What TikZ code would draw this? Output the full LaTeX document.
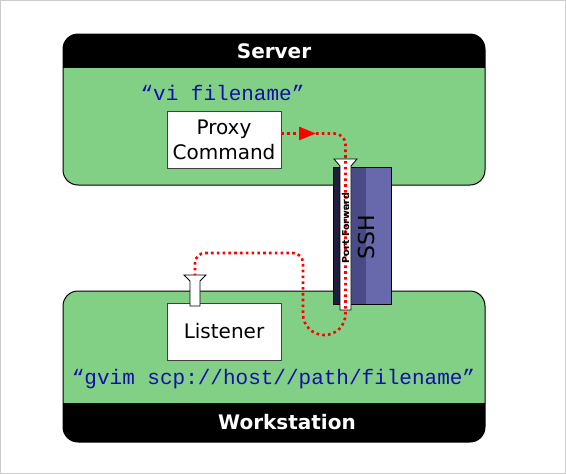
\documentclass[tikz,border=0pt]{standalone}
\usepackage{fontspec}
\setmainfont{DejaVu Sans}
\setmonofont{Liberation Mono}
\usetikzlibrary{positioning,arrows.meta,calc}
\definecolor{hostgreen}{HTML}{82D086}
\definecolor{sshlight}{HTML}{6868AC}
\definecolor{sshmid}{HTML}{4A4A86}
\definecolor{sshdark}{HTML}{1F1F3D}
\definecolor{cmdblue}{HTML}{1010A8}
\definecolor{pageframe}{HTML}{CCCCCC}
\tikzset{
  hostbox/.style={rectangle, draw=black, line width=1pt, rounded corners=15pt,
              fill=hostgreen, minimum width=422pt, minimum height=151pt},
  hdr/.style={text=white, font=\bfseries\fontsize{20}{24}\selectfont},
  prog/.style={rectangle, draw=black!75, fill=white, line width=0.8pt,
              minimum width=114pt, minimum height=57pt, align=center,
              font=\fontsize{20}{25}\selectfont},
  cmd/.style={text=cmdblue, font=\ttfamily\fontsize{21}{24}\selectfont},
  funnel/.style={draw=black, fill=white, line width=0.8pt},
  tunnel/.style={draw=red, line width=2.6pt, dash pattern=on 2.6pt off 3.2pt}
}
\begin{document}
\begin{tikzpicture}[x=1pt, y=-1pt]
\useasboundingbox (0,0) rectangle (566,474);
\draw[pageframe, line width=1pt] (0.5,0.5) rectangle (565.5,473.5);
% hosts
\node[hostbox, path picture={\fill[black, sharp corners] (path picture bounding box.north west)
  rectangle ([yshift=-34pt]path picture bounding box.north east);}] (server) at (274,109.5) {};
\node[hostbox, path picture={\fill[black, sharp corners] (path picture bounding box.south west)
  rectangle ([yshift=39pt]path picture bounding box.south east);}] (wstation) at (274,366.5) {};
\node[hdr] (srvtitle) at (274,51) {Server};
\node[hdr] (wstitle) at (287,422) {Workstation};
\node[cmd] (vicmd) at (222.5,93) {“vi filename”};
\node[cmd] (gvimcmd) at (273.5,379) {“gvim scp://host//path/filename”};
% programs
\node[prog] (proxy) at (224,139.5) {Proxy\\Command};
\node[prog] (listener) at (224,331.5) {Listener};
% ssh tunnel
\node[rectangle, fill=sshlight, minimum width=57pt, minimum height=136pt] (ssh) at (362.5,236) {};
\fill[sshdark] (ssh.north west) rectangle ([xshift=6pt]ssh.south west);
\fill[sshmid] ([xshift=17pt]ssh.north west) rectangle ([xshift=32pt]ssh.south west);
\draw[line width=1pt] (ssh.north west) rectangle (ssh.south east);
\node[rotate=90, font=\fontsize{22}{24}\selectfont] (sshlbl) at (366,237) {SSH};
\coordinate (sfun) at (345.5,159);
\draw[funnel] (sfun) ++(-11.5,0) -- ++(23,0) -- ++(-6,7) -- ++(0,144) -- ++(-11,0) -- ++(0,-144) -- cycle;
\coordinate (lfun) at (195,275);
\draw[funnel] (lfun) ++(-11,0) -- ++(22,0) -- ++(-6,6) -- ++(0,25) -- ++(-10,0) -- ++(0,-25) -- cycle;
% forwarded path
\coordinate (tip) at (316,133.5);
\coordinate (bendA) at (345.5,133.5);
\coordinate (bendB) at (345.5,335);
\coordinate (bendC) at (303,335);
\coordinate (bendD) at (303,253);
\coordinate (bendE) at (195,253);
\draw[tunnel, -{Triangle[length=17pt, width=13pt]}] (proxy.east |- tip) -- (tip);
\draw[tunnel, rounded corners=11pt] (tip) -- (bendA) [rounded corners=21pt] -- (bendB) -- (bendC)
  [rounded corners=10pt] -- (bendD) -- (bendE) -- (lfun);
\node[rotate=90, font=\bfseries\fontsize{9.5}{10}\selectfont] (fwdlbl) at (345.5,228) {Port Forward};
\end{tikzpicture}
\end{document}
